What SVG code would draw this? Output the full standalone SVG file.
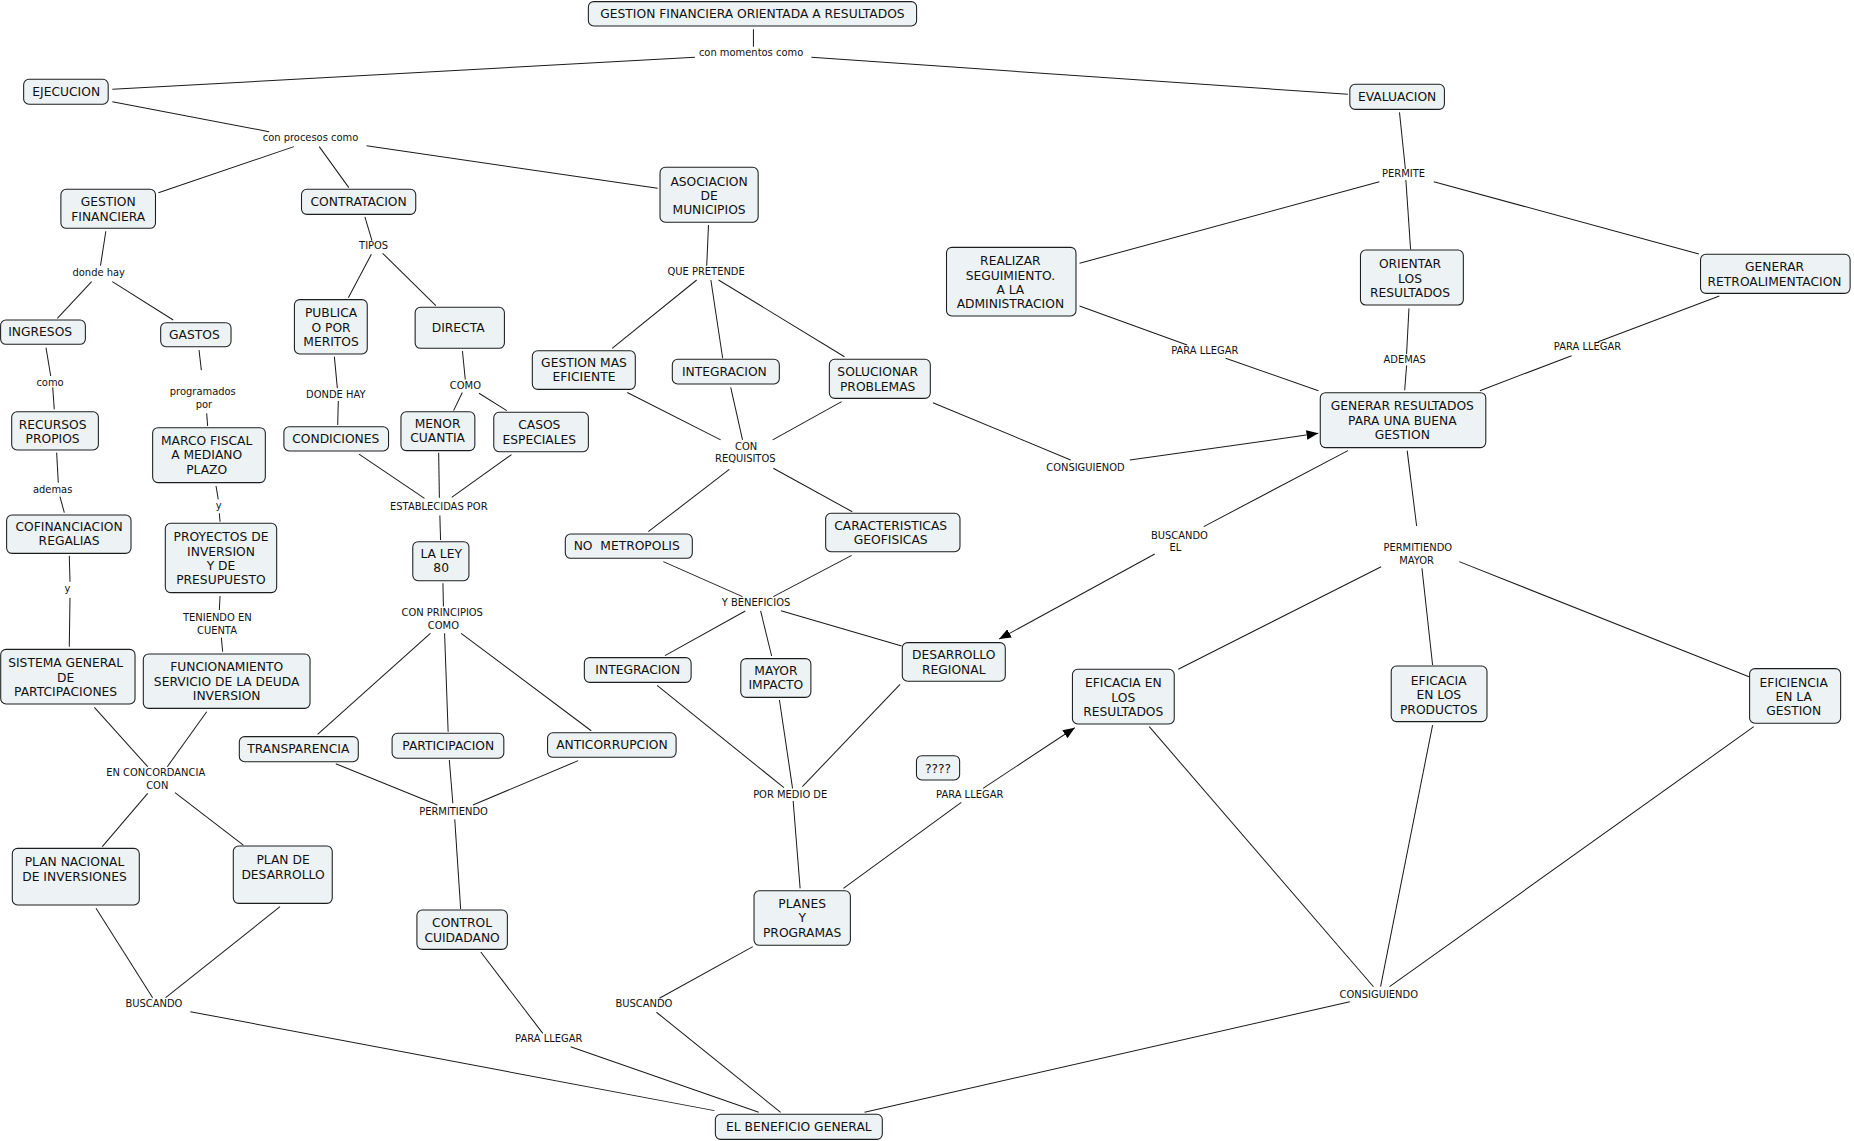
<svg xmlns="http://www.w3.org/2000/svg" width="1854" height="1141" viewBox="0 0 1854 1141">
<style>
.node rect{fill:#edf3f5;stroke:#1e1e1e;stroke-width:0.9}
.node text{font-family:"DejaVu Sans",Verdana,sans-serif;font-size:10.4px;fill:#111;text-anchor:middle}
.lab text{font-family:"DejaVu Sans",Verdana,sans-serif;font-size:8.4px;fill:#111;text-anchor:middle}
.conn line{stroke:#1a1a1a;stroke-width:0.85;fill:none}
</style>
<defs>
<marker id="arr" viewBox="0 0 10 8" refX="10" refY="4" markerWidth="10" markerHeight="8" markerUnits="userSpaceOnUse" orient="auto">
<path d="M0,0 L10,4 L0,8 z" fill="#000"/>
</marker>
</defs>
<rect width="1854" height="1141" fill="#fff"/>
<g transform="scale(1.1824)">
<g id="connectors" class="conn">
<line x1="637.2" y1="24.8" x2="637.2" y2="39.5"/>
<line x1="587.7" y1="48.5" x2="95" y2="75.5"/>
<line x1="686.2" y1="48.5" x2="1140" y2="79.8"/>
<line x1="95" y1="86" x2="227.6" y2="111.4"/>
<line x1="248.6" y1="124" x2="134" y2="163"/>
<line x1="270" y1="124" x2="295" y2="158.7"/>
<line x1="310" y1="123.2" x2="556.2" y2="159.3"/>
<line x1="89.5" y1="195.6" x2="85" y2="224.7"/>
<line x1="77.5" y1="238.2" x2="48.5" y2="269.2"/>
<line x1="95" y1="238.2" x2="146.5" y2="270.6"/>
<line x1="308.6" y1="183.5" x2="314.6" y2="203.5"/>
<line x1="314.1" y1="215.1" x2="294.6" y2="251.8"/>
<line x1="323.6" y1="214.2" x2="368.6" y2="258.5"/>
<line x1="599.2" y1="190.3" x2="597.7" y2="224.7"/>
<line x1="589.2" y1="236.8" x2="517.7" y2="294.6"/>
<line x1="601.2" y1="236.8" x2="611.2" y2="303"/>
<line x1="607.7" y1="236.8" x2="714.2" y2="301.7"/>
<line x1="38.9" y1="294" x2="42.9" y2="318"/>
<line x1="44.6" y1="327.6" x2="45.9" y2="346.2"/>
<line x1="168.3" y1="296" x2="170.3" y2="313"/>
<line x1="174.8" y1="349.6" x2="175.6" y2="360.3"/>
<line x1="282.8" y1="301.6" x2="285.3" y2="328.4"/>
<line x1="286.1" y1="339.1" x2="285.6" y2="359.4"/>
<line x1="391.1" y1="296.9" x2="393.5" y2="321"/>
<line x1="391" y1="332" x2="383.6" y2="347.3"/>
<line x1="405.1" y1="332.6" x2="428.6" y2="347.3"/>
<line x1="47.9" y1="382.8" x2="49.3" y2="408.2"/>
<line x1="50.7" y1="420" x2="54.4" y2="433.6"/>
<line x1="182.7" y1="411" x2="184.6" y2="422.3"/>
<line x1="185.5" y1="434.1" x2="186.1" y2="441.2"/>
<line x1="303.6" y1="384" x2="359" y2="421.5"/>
<line x1="371" y1="383" x2="371.6" y2="421"/>
<line x1="432.6" y1="384.5" x2="382" y2="420.6"/>
<line x1="372" y1="436" x2="372.6" y2="456.7"/>
<line x1="58.6" y1="470" x2="59.2" y2="492"/>
<line x1="59.2" y1="505.5" x2="58.6" y2="547"/>
<line x1="186.1" y1="504.1" x2="185.5" y2="515.9"/>
<line x1="187.2" y1="539.3" x2="188.3" y2="551.2"/>
<line x1="530.5" y1="332" x2="609.5" y2="372"/>
<line x1="618" y1="327.6" x2="628" y2="372"/>
<line x1="711.8" y1="339.7" x2="653.5" y2="372"/>
<line x1="616.8" y1="397" x2="548.3" y2="449.7"/>
<line x1="654" y1="396" x2="720.8" y2="432.8"/>
<line x1="789" y1="340.6" x2="905.5" y2="389"/>
<line x1="955.5" y1="389" x2="1115" y2="366.5" marker-end="url(#arr)"/>
<line x1="561" y1="475" x2="628" y2="504.6"/>
<line x1="720.3" y1="469.7" x2="654" y2="504.6"/>
<line x1="630.3" y1="516.7" x2="562.4" y2="554.5"/>
<line x1="643.3" y1="516.7" x2="652.6" y2="554.8"/>
<line x1="660.5" y1="516.5" x2="762.6" y2="546.3"/>
<line x1="374.6" y1="493.3" x2="375" y2="513"/>
<line x1="364" y1="535.6" x2="268.6" y2="621"/>
<line x1="376" y1="535.6" x2="379" y2="618.8"/>
<line x1="390" y1="535.6" x2="500" y2="618"/>
<line x1="79.8" y1="598.2" x2="124.9" y2="648.4"/>
<line x1="174.8" y1="601.9" x2="141.5" y2="648.4"/>
<line x1="124.9" y1="671" x2="86.5" y2="716"/>
<line x1="148" y1="670.4" x2="205.8" y2="714.7"/>
<line x1="81.2" y1="768.2" x2="129.1" y2="843.8"/>
<line x1="236.8" y1="766.8" x2="140.1" y2="843.8"/>
<line x1="161" y1="855.6" x2="604.2" y2="939.3"/>
<line x1="284" y1="646" x2="370" y2="680.8"/>
<line x1="380" y1="642.8" x2="383" y2="679.4"/>
<line x1="489" y1="643.3" x2="400" y2="680.8"/>
<line x1="384.6" y1="693" x2="389.6" y2="768.8"/>
<line x1="406.6" y1="805.2" x2="459.1" y2="874"/>
<line x1="482.6" y1="885.2" x2="641.7" y2="940.7"/>
<line x1="636.7" y1="800.6" x2="557.7" y2="844.3"/>
<line x1="555.2" y1="856.1" x2="660.2" y2="940.7"/>
<line x1="555.7" y1="579.6" x2="663" y2="666.2"/>
<line x1="659.2" y1="592" x2="670.3" y2="666.7"/>
<line x1="761.2" y1="578.8" x2="678.6" y2="665.3"/>
<line x1="670.8" y1="677.4" x2="676.7" y2="751.3"/>
<line x1="713.3" y1="751.3" x2="813" y2="678.6"/>
<line x1="831.4" y1="666.7" x2="909" y2="615.5" marker-end="url(#arr)"/>
<line x1="1183.6" y1="95" x2="1188.6" y2="143.2"/>
<line x1="1189" y1="152.2" x2="1193" y2="210.9"/>
<line x1="1166.6" y1="153.7" x2="913" y2="222.7"/>
<line x1="1212.6" y1="153.7" x2="1436.8" y2="214.8"/>
<line x1="913" y1="258.8" x2="1004" y2="291.8"/>
<line x1="1036.6" y1="303" x2="1115" y2="330.4"/>
<line x1="1191.6" y1="260.8" x2="1189.6" y2="299.4"/>
<line x1="1189.6" y1="309" x2="1188" y2="330"/>
<line x1="1454.1" y1="250.3" x2="1351.7" y2="289"/>
<line x1="1329.2" y1="300.8" x2="1251.6" y2="330.4"/>
<line x1="1140" y1="381.1" x2="1018" y2="445.4"/>
<line x1="976.6" y1="468.5" x2="845" y2="540.5" marker-end="url(#arr)"/>
<line x1="1190.1" y1="381.1" x2="1198.1" y2="444.9"/>
<line x1="1168.1" y1="479.3" x2="996.5" y2="566"/>
<line x1="1202.6" y1="480.6" x2="1211.6" y2="562.4"/>
<line x1="1234.1" y1="475" x2="1479.2" y2="572.3"/>
<line x1="972" y1="614.6" x2="1161.6" y2="834.5"/>
<line x1="1211.6" y1="613.2" x2="1167.6" y2="834.5"/>
<line x1="1483.2" y1="614.6" x2="1175.2" y2="834.5"/>
<line x1="1141.6" y1="847.2" x2="731.2" y2="940.7"/>
</g>
<g id="labels" class="lab">
<text x="635.2" y="47.6">con momentos como</text>
<text x="262.6" y="119.1">con procesos como</text>
<text x="83.5" y="233.3">donde hay</text>
<text x="316" y="211">TIPOS</text>
<text x="597.2" y="232.2">QUE PRETENDE</text>
<text x="42.3" y="326.3">como</text>
<text x="171.5" y="334.2">programados<tspan x="172.5" y="344.7">por</tspan></text>
<text x="284" y="336.2">DONDE HAY</text>
<text x="393.6" y="329.2">COMO</text>
<text x="44.5" y="416.8">ademas</text>
<text x="185" y="430.1">y</text>
<text x="371.1" y="431.5">ESTABLECIDAS POR</text>
<text x="57" y="501">y</text>
<text x="183.8" y="525.4">TENIENDO EN<tspan x="183.5" y="535.8">CUENTA</tspan></text>
<text x="631" y="380.8">CON<tspan x="630.3" y="391">REQUISITOS</tspan></text>
<text x="639.4" y="512.7">Y BENEFICIOS</text>
<text x="374" y="521">CON PRINCIPIOS<tspan x="375" y="531.6">COMO</tspan></text>
<text x="918" y="398">CONSIGUIENOD</text>
<text x="131.7" y="656.5">EN CONCORDANCIA<tspan x="133" y="667">CON</tspan></text>
<text x="383.6" y="689.5">PERMITIENDO</text>
<text x="668.3" y="674.5">POR MEDIO DE</text>
<text x="820.1" y="675.1">PARA LLEGAR</text>
<text x="130.2" y="852">BUSCANDO</text>
<text x="464.1" y="881.4">PARA LLEGAR</text>
<text x="544.6" y="852">BUSCANDO</text>
<text x="1187" y="149.9">PERMITE</text>
<text x="1019" y="299.3">PARA LLEGAR</text>
<text x="1188" y="307.2">ADEMAS</text>
<text x="1342.6" y="296.2">PARA LLEGAR</text>
<text x="997.5" y="455.5">BUSCANDO<tspan x="994" y="465.9">EL</tspan></text>
<text x="1199.1" y="466.2">PERMITIENDO<tspan x="1198.1" y="476.6">MAYOR</tspan></text>
<text x="1166.1" y="843.7">CONSIGUIENDO</text>
</g>
<g id="n-title" class="node"><rect x="497.6" y="1.4" width="277.6" height="20.6" rx="4.5"/><text x="636.4" y="15.6">GESTION FINANCIERA ORIENTADA A RESULTADOS</text></g>
<g id="n-ejecucion" class="node"><rect x="20" y="67.1" width="71.5" height="21.1" rx="4.5"/><text x="56" y="81.4">EJECUCION</text></g>
<g id="n-evaluacion" class="node"><rect x="1141.6" y="71.3" width="80" height="21.2" rx="4.5"/><text x="1181.6" y="85.7">EVALUACION</text></g>
<g id="n-gestion-financiera" class="node"><rect x="51.5" y="160.1" width="80" height="33" rx="4.5"/><text x="91.5" y="174.3">GESTION<tspan x="91.5" y="186.5">FINANCIERA</tspan></text></g>
<g id="n-contratacion" class="node"><rect x="255" y="160.1" width="96.6" height="21.2" rx="4.5"/><text x="303.3" y="174.5">CONTRATACION</text></g>
<g id="n-asociacion" class="node"><rect x="558.2" y="141.5" width="83" height="46.5" rx="4.5"/><text x="599.7" y="156.9">ASOCIACION<tspan x="599.7" y="169.3">DE</tspan><tspan x="599.7" y="181.1">MUNICIPIOS</tspan></text></g>
<g id="n-ingresos" class="node"><rect x="0.5" y="270.6" width="71.7" height="20.6" rx="4.5"/><text x="34" y="284.3">INGRESOS</text></g>
<g id="n-gastos" class="node"><rect x="135.9" y="272.9" width="59.5" height="20.3" rx="4.5"/><text x="164.4" y="286.8">GASTOS</text></g>
<g id="n-publica" class="node"><rect x="249" y="253.4" width="61.6" height="46" rx="4.5"/><text x="280" y="268.2">PUBLICA<tspan x="280" y="280.6">O POR</tspan><tspan x="280" y="292.8">MERITOS</tspan></text></g>
<g id="n-directa" class="node"><rect x="351.1" y="259.9" width="75.5" height="34.7" rx="4.5"/><text x="387.5" y="280.9">DIRECTA</text></g>
<g id="n-gestion-mas" class="node"><rect x="450.2" y="296.6" width="87.1" height="32.7" rx="4.5"/><text x="493.9" y="310.2">GESTION MAS<tspan x="493.9" y="322.6">EFICIENTE</tspan></text></g>
<g id="n-integracion-1" class="node"><rect x="568.6" y="303.9" width="90.5" height="20.9" rx="4.5"/><text x="612.6" y="318.1">INTEGRACION</text></g>
<g id="n-solucionar" class="node"><rect x="701.4" y="303.9" width="85.4" height="33" rx="4.5"/><text x="742.3" y="318.1">SOLUCIONAR<tspan x="742.3" y="330.3">PROBLEMAS</tspan></text></g>
<g id="n-realizar" class="node"><rect x="800.5" y="209.2" width="109.5" height="58.1" rx="4.5"/><text x="854.5" y="223.7">REALIZAR<tspan x="854.5" y="236.4">SEGUIMIENTO.</tspan><tspan x="854.5" y="248.8">A LA</tspan><tspan x="854.5" y="260.9">ADMINISTRACION</tspan></text></g>
<g id="n-orientar" class="node"><rect x="1150.6" y="211.4" width="87" height="46.6" rx="4.5"/><text x="1192.5" y="226.5">ORIENTAR<tspan x="1192.5" y="239.2">LOS</tspan><tspan x="1192.5" y="251.6">RESULTADOS</tspan></text></g>
<g id="n-generar-retro" class="node"><rect x="1438.2" y="215.1" width="126.5" height="33" rx="4.5"/><text x="1500.8" y="229.3">GENERAR<tspan x="1500.8" y="241.5">RETROALIMENTACION</tspan></text></g>
<g id="n-generar-resultados" class="node"><rect x="1116.6" y="332.1" width="140" height="46.5" rx="4.5"/><text x="1186" y="346.9">GENERAR RESULTADOS<tspan x="1186" y="359.3">PARA UNA BUENA</tspan><tspan x="1186" y="371.1">GESTION</tspan></text></g>
<g id="n-recursos" class="node"><rect x="9.9" y="348.2" width="73.3" height="32.4" rx="4.5"/><text x="44.5" y="362.4">RECURSOS<tspan x="44.5" y="374.5">PROPIOS</tspan></text></g>
<g id="n-marco" class="node"><rect x="129.1" y="361.7" width="95.3" height="46.5" rx="4.5"/><text x="174.8" y="376.5">MARCO FISCAL<tspan x="174.8" y="388.6">A MEDIANO</tspan><tspan x="174.8" y="400.7">PLAZO</tspan></text></g>
<g id="n-condiciones" class="node"><rect x="240.1" y="360.9" width="88.5" height="20.5" rx="4.5"/><text x="284" y="374.5">CONDICIONES</text></g>
<g id="n-menor" class="node"><rect x="339.1" y="348.2" width="62.5" height="32.9" rx="4.5"/><text x="370.1" y="361.8">MENOR<tspan x="370.1" y="374">CUANTIA</tspan></text></g>
<g id="n-casos" class="node"><rect x="417.6" y="348.7" width="80" height="33.3" rx="4.5"/><text x="456.1" y="362.7">CASOS<tspan x="456.1" y="375.3">ESPECIALES</tspan></text></g>
<g id="n-cofinanciacion" class="node"><rect x="5.6" y="435.6" width="105.2" height="32.4" rx="4.5"/><text x="58.4" y="449.2">COFINANCIACION<tspan x="58.4" y="461.3">REGALIAS</tspan></text></g>
<g id="n-proyectos" class="node"><rect x="139.8" y="442.6" width="94.2" height="58.6" rx="4.5"/><text x="186.9" y="457.7">PROYECTOS DE<tspan x="186.9" y="470.1">INVERSION</tspan><tspan x="186.9" y="482.2">Y DE</tspan><tspan x="186.9" y="494.3">PRESUPUESTO</tspan></text></g>
<g id="n-ley80" class="node"><rect x="349.1" y="458.1" width="47.5" height="33" rx="4.5"/><text x="373.1" y="471.8">LA LEY<tspan x="373.1" y="483.9">80</tspan></text></g>
<g id="n-no-metropolis" class="node"><rect x="478.1" y="451.6" width="107.4" height="20.6" rx="4.5"/><text x="530" y="465.3" xml:space="preserve">NO  METROPOLIS</text></g>
<g id="n-caracteristicas" class="node"><rect x="698.3" y="434.1" width="113.6" height="32.5" rx="4.5"/><text x="753.3" y="448.4">CARACTERISTICAS<tspan x="753.3" y="460.5">GEOFISICAS</tspan></text></g>
<g id="n-sistema" class="node"><rect x="0.6" y="549.2" width="113.6" height="46.2" rx="4.5"/><text x="55.5" y="564">SISTEMA GENERAL<tspan x="55.5" y="576.6">DE</tspan><tspan x="55.5" y="588.8">PARTCIPACIONES</tspan></text></g>
<g id="n-funcionamiento" class="node"><rect x="121.2" y="553.1" width="141" height="46" rx="4.5"/><text x="191.7" y="567.6">FUNCIONAMIENTO<tspan x="191.7" y="579.8">SERVICIO DE LA DEUDA</tspan><tspan x="191.7" y="592.2">INVERSION</tspan></text></g>
<g id="n-integracion-2" class="node"><rect x="494.2" y="556.2" width="90.3" height="20.9" rx="4.5"/><text x="539.4" y="569.9">INTEGRACION</text></g>
<g id="n-mayor-impacto" class="node"><rect x="626.5" y="557" width="59.3" height="32.8" rx="4.5"/><text x="656.2" y="571">MAYOR<tspan x="656.2" y="583.1">IMPACTO</tspan></text></g>
<g id="n-desarrollo-regional" class="node"><rect x="763.1" y="543.5" width="87.1" height="32.7" rx="4.5"/><text x="806.6" y="557.2">DESARROLLO<tspan x="806.6" y="569.9">REGIONAL</tspan></text></g>
<g id="n-transparencia" class="node"><rect x="202.4" y="623" width="100.6" height="21.2" rx="4.5"/><text x="252.3" y="637">TRANSPARENCIA</text></g>
<g id="n-participacion" class="node"><rect x="331.6" y="620.2" width="94.5" height="21.1" rx="4.5"/><text x="379.1" y="634.4">PARTICIPACION</text></g>
<g id="n-anticorrupcion" class="node"><rect x="463.1" y="619.7" width="108.7" height="20.8" rx="4.5"/><text x="517.5" y="633.3">ANTICORRUPCION</text></g>
<g id="n-eficacia-resultados" class="node"><rect x="907" y="566" width="86.1" height="46.3" rx="4.5"/><text x="950" y="581.1">EFICACIA EN<tspan x="950" y="593.6">LOS</tspan><tspan x="950" y="605.7">RESULTADOS</tspan></text></g>
<g id="n-eficacia-productos" class="node"><rect x="1176.6" y="563.3" width="81" height="47" rx="4.5"/><text x="1216.8" y="579.2">EFICACIA<tspan x="1216.8" y="591.5">EN LOS</tspan><tspan x="1216.8" y="603.8">PRODUCTOS</tspan></text></g>
<g id="n-eficiencia" class="node"><rect x="1479.7" y="565.5" width="77" height="46.2" rx="4.5"/><text x="1517" y="580.6">EFICIENCIA<tspan x="1517" y="592.7">EN LA</tspan><tspan x="1517" y="605.1">GESTION</tspan></text></g>
<g id="n-interrogacion" class="node"><rect x="775.1" y="639.1" width="36.5" height="20.6" rx="4.5"/><text x="793.3" y="653.6">????</text></g>
<g id="n-plan-nacional" class="node"><rect x="10.4" y="717.5" width="107.4" height="47.9" rx="4.5"/><text x="63" y="732.5">PLAN NACIONAL<tspan x="63" y="745.2">DE INVERSIONES</tspan></text></g>
<g id="n-plan-desarrollo" class="node"><rect x="197.3" y="715.5" width="83.7" height="48.5" rx="4.5"/><text x="239.4" y="731.1">PLAN DE<tspan x="239.4" y="743">DESARROLLO</tspan></text></g>
<g id="n-control" class="node"><rect x="352.6" y="769.6" width="76.5" height="33.3" rx="4.5"/><text x="390.8" y="784.4">CONTROL<tspan x="390.8" y="796.3">CUIDADANO</tspan></text></g>
<g id="n-planes" class="node"><rect x="637.7" y="753.3" width="81.5" height="46.2" rx="4.5"/><text x="678.4" y="767.8">PLANES<tspan x="678.4" y="779.9">Y</tspan><tspan x="678.4" y="792.3">PROGRAMAS</tspan></text></g>
<g id="n-beneficio" class="node"><rect x="605" y="942.4" width="141.2" height="21.2" rx="4.5"/><text x="675.6" y="956.8">EL BENEFICIO GENERAL</text></g>
</g>
</svg>
